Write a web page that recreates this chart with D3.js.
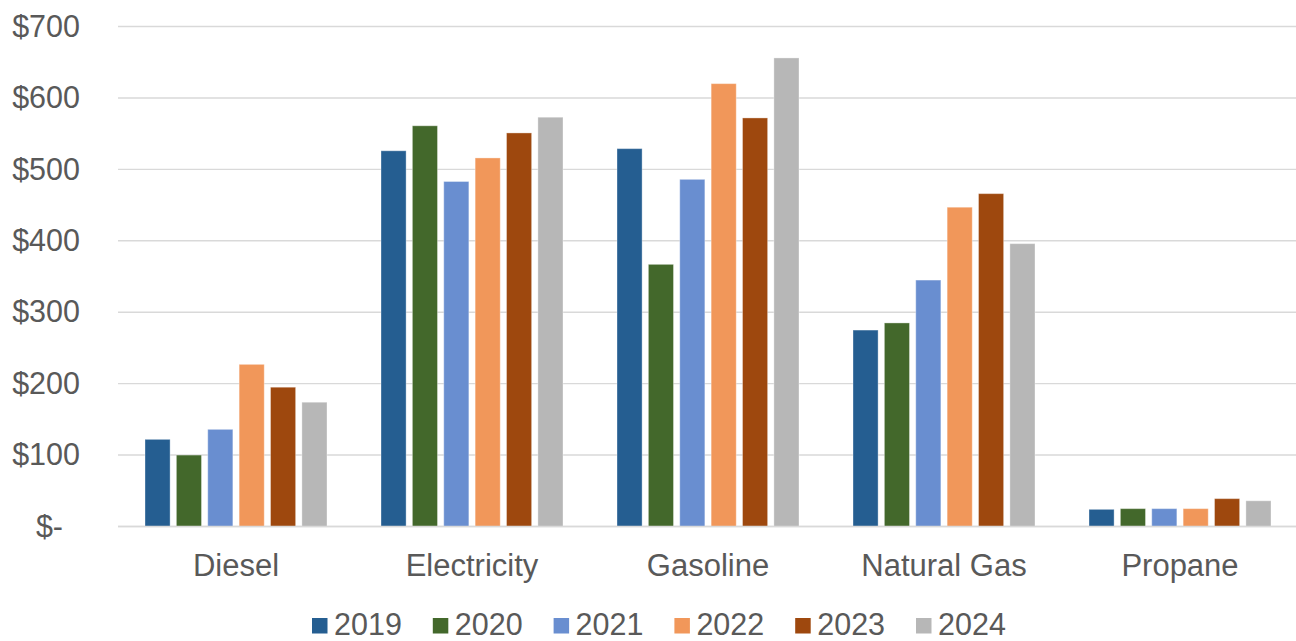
<!DOCTYPE html>
<html>
<head>
<meta charset="utf-8">
<script src="https://cdn.jsdelivr.net/npm/d3@7/dist/d3.min.js"></script>
<style>
  html, body { margin: 0; padding: 0; background: #fff; }
  svg { display: block; font-family: "Liberation Sans", Arial, sans-serif; }
</style>
</head>
<body>
<svg id="chart" width="1296" height="641"></svg>
<script>
// Annual fuel spending by fuel type
const categories = ["Diesel", "Electricity", "Gasoline", "Natural Gas", "Propane"];
const years = ["2019", "2020", "2021", "2022", "2023", "2024"];
const v2019 = [122, 526, 529, 275, 24];
const v2020 = [100, 561, 367, 285, 25];
const v2021 = [136, 483, 486, 345, 25];
const v2022 = [227, 516, 620, 447, 25];
const v2023 = [195, 551, 572, 466, 39];
const v2024 = [174, 573, 656, 396, 36];
const yTicks = [0, 100, 200, 300, 400, 500, 600, 700];
const colors = ["#255E91", "#43682B", "#698ED0", "#F1975A", "#9E480E", "#B7B7B7"];

const seriesValues = [v2019, v2020, v2021, v2022, v2023, v2024];
const rows = categories.map((c, i) => ({
  category: c,
  values: years.map((y, j) => ({ year: y, value: seriesValues[j][i], color: colors[j] }))
}));

const svg = d3.select("#chart");
const textColor = "#595959";
const gridColor = "#D9D9D9";

const x0 = d3.scaleBand().domain(categories).range([118, 1298]).padding(0);
const x1 = d3.scaleBand().domain(years).range([27, 209]).paddingInner(0.2).paddingOuter(0);
const y = d3.scaleLinear().domain([0, 700]).range([526.5, 26.5]);

// Horizontal gridlines
svg.append("g")
  .selectAll("line")
  .data(yTicks)
  .join("line")
  .attr("x1", 118)
  .attr("x2", 1296)
  .attr("y1", d => y(d))
  .attr("y2", d => y(d))
  .attr("stroke", gridColor)
  .attr("stroke-width", 1.4);

// Y axis labels
const yAxis = d3.axisLeft(y)
  .tickValues(yTicks)
  .tickSize(0)
  .tickPadding(0)
  .tickFormat(d => d === 0 ? "$-" : "$" + d);
const yG = svg.append("g").attr("transform", "translate(80,0)").call(yAxis);
yG.select(".domain").remove();
yG.selectAll("text")
  .attr("fill", textColor)
  .attr("font-size", 30.5)
  .attr("font-family", "Liberation Sans, Arial, sans-serif")
  .attr("dx", d => d === 0 ? -17 : 0);

// Bars
const groups = svg.append("g")
  .selectAll("g")
  .data(rows)
  .join("g")
  .attr("transform", d => `translate(${x0(d.category)},0)`);

groups.selectAll("rect")
  .data(d => d.values)
  .join("rect")
  .attr("x", d => x1(d.year))
  .attr("width", x1.bandwidth())
  .attr("y", d => y(d.value))
  .attr("height", d => y(0) - y(d.value))
  .attr("fill", d => d.color)
  .attr("stroke", "#ffffff")
  .attr("stroke-opacity", 0.35)
  .attr("stroke-width", 1);

// Baseline drawn over the bars
svg.append("line")
  .attr("x1", 118).attr("x2", 1296)
  .attr("y1", y(0)).attr("y2", y(0))
  .attr("stroke", gridColor)
  .attr("stroke-width", 1.6);

// Category axis labels
const xAxis = d3.axisBottom(x0).tickSize(0).tickPadding(0);
const xG = svg.append("g").attr("transform", "translate(0,576)").call(xAxis);
xG.select(".domain").remove();
xG.selectAll("text")
  .attr("fill", textColor)
  .attr("font-size", 31)
  .attr("font-family", "Liberation Sans, Arial, sans-serif")
  .attr("dy", 0)
  .attr("y", 0);

// Legend
const legend = svg.append("g").attr("transform", "translate(312,0)");
const item = legend.selectAll("g")
  .data(years)
  .join("g")
  .attr("transform", (d, i) => `translate(${i * 120.8},0)`);
item.append("rect")
  .attr("x", 0).attr("y", 618)
  .attr("width", 15.5).attr("height", 15.5)
  .attr("fill", (d, i) => colors[i]);
item.append("text")
  .attr("x", 22).attr("y", 634.5)
  .attr("fill", textColor)
  .attr("font-size", 30.5)
  .text(d => d);
</script>
</body>
</html>
